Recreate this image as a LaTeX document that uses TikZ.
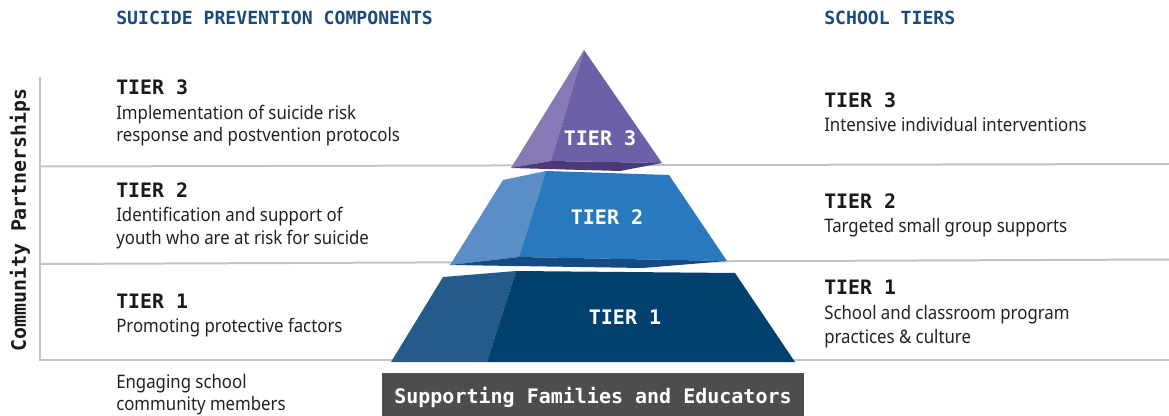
\documentclass[tikz,border=0pt]{standalone}
\usepackage{fontspec}
\setmainfont{Noto Sans}[FakeStretch=0.9]
\setmonofont{DejaVu Sans Mono}
\definecolor{ink}{HTML}{222222}
\definecolor{monoink}{HTML}{1A1A1A}
\definecolor{headblue}{HTML}{1B4A7B}
\definecolor{rulegray}{HTML}{C4C4C4}
\definecolor{boxgray}{HTML}{4D4D4F}
\definecolor{tthreel}{HTML}{8679B6}
\definecolor{tthreef}{HTML}{6E60A8}
\definecolor{tthreed}{HTML}{4C3A77}
\definecolor{ttwol}{HTML}{5B8DC7}
\definecolor{ttwof}{HTML}{2879BD}
\definecolor{ttwod}{HTML}{144B82}
\definecolor{tonel}{HTML}{245A8C}
\definecolor{tonef}{HTML}{02416F}
\begin{document}
\begin{tikzpicture}[x=0.75pt,y=-0.75pt,
  mono/.style={font=\ttfamily\bfseries\fontsize{14.9}{18}\selectfont, text=monoink, inner sep=0pt, anchor=base west},
  body/.style={font=\fontsize{14}{17}\selectfont, text=ink, inner sep=0pt, anchor=base west},
  head/.style={font=\ttfamily\bfseries\fontsize{13.6}{16}\selectfont, text=headblue, inner sep=0pt, anchor=base west},
  tierlabel/.style={font=\ttfamily\bfseries\fontsize{15}{18}\selectfont, text=white, inner sep=0pt, anchor=base},
  rule/.style={draw=rulegray, line width=1.5pt}]
\useasboundingbox (0,0) rectangle (1169,416);

% rules
\coordinate (vtop) at (40,77);
\coordinate (vbot) at (40,360);
\coordinate (r1) at (1169,164);
\coordinate (r2) at (1169,259.5);
\coordinate (r3) at (1169,360);
\draw[rule] (vtop) -- (vbot) -- (r3);
\draw[rule] (40,166.5) -- (r1);
\draw[rule] (40,264) -- (r2);

% pyramid tier 3
\fill[tthreel] (584,50) -- (551,161) -- (511,168) -- cycle;
\fill[tthreef] (584,50) -- (662,163) -- (551,161) -- cycle;
\fill[tthreed] (511,168) -- (551,161) -- (662,163) -- (620,171) -- cycle;
% tier 2
\fill[ttwol] (503,180) -- (546,171) -- (519,257) -- (450,265) -- cycle;
\fill[ttwof] (546,171) -- (669,175) -- (727,261) -- (519,257) -- cycle;
\fill[ttwod] (450,265) -- (519,257) -- (727,261) -- (643,268) -- cycle;
% tier 1
\fill[tonel] (443,277) -- (516,271) -- (487,362) -- (391,362) -- cycle;
\fill[tonef] (516,271) -- (735,273) -- (795,362) -- (487,362) -- cycle;

\node[tierlabel] (p3) at (600,146) {TIER 3};
\node[tierlabel] (p2) at (607,225) {TIER 2};
\node[tierlabel] (p1) at (625,325) {TIER 1};

% bottom box
\node[fill=boxgray, minimum width=316.5pt, minimum height=36pt, inner sep=0pt] (sfebox) at (593,397) {};
\node[tierlabel] (sfe) at (593,403) {Supporting Families and Educators};

% headers
\node[head] (hl) at (116,25) {SUICIDE PREVENTION COMPONENTS};
\node[head] (hr) at (824,25) {SCHOOL TIERS};

% vertical label
\node[mono, rotate=90, anchor=base] (cp) at (26,220) {Community Partnerships};

% left column
\node[mono] (l3) at (116,95) {TIER 3};
\node[body] (l3a) at (116,120) {Implementation of suicide risk};
\node[body] (l3b) at (116,142) {response and postvention protocols};
\node[mono] (l2) at (116,198) {TIER 2};
\node[body] (l2a) at (116,222) {Identification and support of};
\node[body] (l2b) at (116,245) {youth who are at risk for suicide};
\node[mono] (l1) at (116,308) {TIER 1};
\node[body] (l1a) at (116,332) {Promoting protective factors};
\node[body] (e1) at (116,388) {Engaging school};
\node[body] (e2) at (116,410) {community members};

% right column
\node[mono] (s3) at (824,108) {TIER 3};
\node[body] (s3a) at (824,132) {Intensive individual interventions};
\node[mono] (s2) at (824,209) {TIER 2};
\node[body] (s2a) at (824,233) {Targeted small group supports};
\node[mono] (s1) at (824,295) {TIER 1};
\node[body] (s1a) at (824,319) {School and classroom program};
\node[body] (s1b) at (824,343) {practices \& culture};
\end{tikzpicture}
\end{document}
